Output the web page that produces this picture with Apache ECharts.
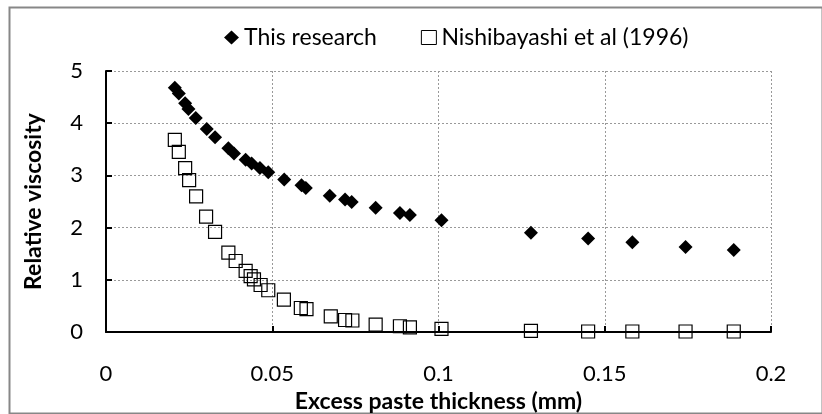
<!DOCTYPE html>
<html>
<head>
<meta charset="utf-8">
<script src="https://cdn.jsdelivr.net/npm/echarts@6/dist/echarts.min.js"></script>
<style>html,body{margin:0;padding:0;background:#fff}#c{width:822px;height:414px}</style>
</head>
<body>
<div id="c"></div>
<script>
const xThis = [0.0207,0.0219,0.0238,0.0248,0.0270,0.0303,0.0328,0.0368,0.0385,0.0420,0.0438,0.0463,0.0488,0.0536,0.0588,0.0601,0.0673,0.0719,0.0739,0.0811,0.0884,0.0914,0.1009,0.1278,0.1450,0.1583,0.1743,0.1888];
const yThis = [4.68,4.57,4.38,4.27,4.10,3.89,3.73,3.52,3.42,3.30,3.23,3.14,3.06,2.92,2.81,2.76,2.61,2.54,2.49,2.38,2.28,2.24,2.14,1.90,1.79,1.72,1.63,1.57];
const xNishi = [0.0207,0.0219,0.0238,0.0250,0.0271,0.0301,0.0328,0.0368,0.0390,0.0420,0.0435,0.0445,0.0465,0.0488,0.0535,0.0586,0.0603,0.0676,0.0719,0.0741,0.0811,0.0884,0.0914,0.1009,0.1278,0.1450,0.1583,0.1743,0.1888];
const yNishi = [3.68,3.45,3.14,2.91,2.60,2.21,1.92,1.52,1.36,1.17,1.07,1.01,0.90,0.80,0.62,0.46,0.44,0.30,0.23,0.22,0.14,0.11,0.09,0.06,0.02,0.01,0.01,0.01,0.01];
const xTicks = [0, 0.05, 0.1, 0.15, 0.2];
const yTicks = [0, 1, 2, 3, 4, 5];
const seriesNames = ['This research', 'Nishibayashi et al (1996)'];
const xTitle = 'Excess paste thickness (mm)';
const yTitle = 'Relative viscosity';

const FONT = 'Lato';
const chart = echarts.init(document.getElementById('c'), null, {renderer: 'canvas'});
const zip = (a, b) => a.map((v, i) => [v, b[i]]);
chart.setOption({
  animation: false,
  backgroundColor: '#fff',
  graphic: [{
    type: 'rect', left: 7, top: 5, silent: true,
    shape: {x: 0, y: 0, width: 813, height: 406},
    style: {fill: 'none', stroke: '#878787', lineWidth: 2}
  }],
  legend: {
    top: 21, left: 219,
    itemGap: 44, itemWidth: 15, itemHeight: 14,
    textStyle: {fontFamily: FONT, fontSize: 23, color: '#000'},
    data: [
      {name: seriesNames[0], icon: 'diamond', itemStyle: {color: '#000'}},
      {name: seriesNames[1], icon: 'rect', itemStyle: {color: '#fff', borderColor: '#000', borderWidth: 1}}
    ]
  },
  grid: {left: 106, right: 51, top: 71, bottom: 82, containLabel: false, outerBoundsMode: 'none'},
  xAxis: {
    type: 'value', min: 0, max: 0.2, interval: 0.05,
    name: xTitle, nameLocation: 'middle', nameGap: 45,
    nameTextStyle: {fontFamily: FONT, fontSize: 23, fontWeight: 'bold', color: '#000'},
    axisLine: {show: true, onZero: false, lineStyle: {color: '#000', width: 2}},
    axisTick: {show: true, inside: true, length: 6, lineStyle: {color: '#000', width: 2}},
    axisLabel: {fontFamily: FONT, fontSize: 22, color: '#000', margin: 31,
      formatter: v => { const t = xTicks.find(k => Math.abs(k - v) < 1e-9); return t === undefined ? '' : String(t); }},
    splitLine: {show: true, lineStyle: {color: '#999', type: [2, 2], width: 1}}
  },
  yAxis: {
    type: 'value', min: 0, max: 5, interval: 1,
    name: yTitle, nameLocation: 'middle', nameGap: 61, nameRotate: 90,
    nameTextStyle: {fontFamily: FONT, fontSize: 23, fontWeight: 'bold', color: '#000'},
    axisLine: {show: true, lineStyle: {color: '#000', width: 2}},
    axisTick: {show: true, inside: true, length: 6, lineStyle: {color: '#000', width: 2}},
    axisLabel: {fontFamily: FONT, fontSize: 22, color: '#000', margin: 23,
      formatter: v => { const t = yTicks.find(k => Math.abs(k - v) < 1e-9); return t === undefined ? '' : String(t); }},
    splitLine: {show: true, lineStyle: {color: '#999', type: [2, 2], width: 1}}
  },
  series: [
    {
      name: seriesNames[0], type: 'scatter', symbol: 'diamond', symbolSize: 14,
      itemStyle: {color: '#000', opacity: 1}, z: 3,
      data: zip(xThis, yThis)
    },
    {
      name: seriesNames[1], type: 'scatter', symbol: 'rect', symbolSize: 13,
      itemStyle: {color: 'rgba(255,255,255,0)', borderColor: '#000', borderWidth: 1.2, opacity: 1}, z: 2,
      data: zip(xNishi, yNishi)
    }
  ]
});
</script>
</body>
</html>
